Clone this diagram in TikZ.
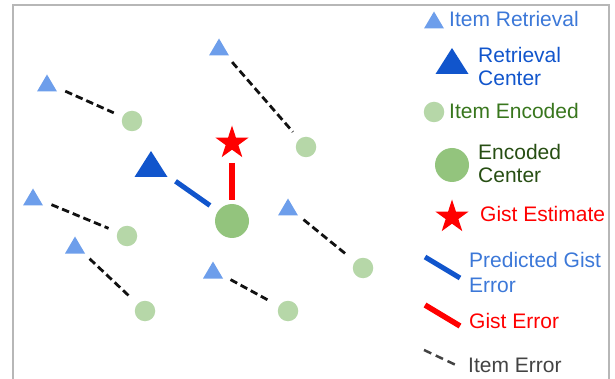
\documentclass[tikz,border=0pt]{standalone}
\usepackage{fontspec}
\setmainfont{Liberation Sans}
\usetikzlibrary{shapes.geometric}
\definecolor{triL}{HTML}{6D9EEB}
\definecolor{triD}{HTML}{1155CC}
\definecolor{circL}{HTML}{B6D7A8}
\definecolor{circM}{HTML}{93C47D}
\definecolor{txtBlue}{HTML}{3C78D8}
\definecolor{txtGreen}{HTML}{38761D}
\definecolor{txtDGreen}{HTML}{274E13}
\definecolor{gistRed}{HTML}{FF0000}
\definecolor{errGray}{HTML}{111111}
\definecolor{txtGray}{HTML}{434343}
\definecolor{frameGray}{HTML}{B7B7B7}
\begin{document}
\begin{tikzpicture}[x=1pt,y=-1pt,
  smalltri/.style={inner sep=0pt, outer sep=0pt, minimum width=20pt, minimum height=17pt,
    path picture={\fill[triL] (path picture bounding box.south west) -- (path picture bounding box.south east) -- (path picture bounding box.north) -- cycle;}},
  bigtri/.style={inner sep=0pt, outer sep=0pt, minimum width=33pt, minimum height=26pt,
    path picture={\fill[triD] (path picture bounding box.south west) -- (path picture bounding box.south east) -- (path picture bounding box.north) -- cycle;}},
  smallcirc/.style={circle, fill=circL, inner sep=0pt, outer sep=0pt, minimum size=20.5pt},
  bigcirc/.style={circle, fill=circM, inner sep=0pt, outer sep=0pt, minimum size=34pt},
  gstar/.style={star, star points=5, star point ratio=2.618, fill=gistRed, inner sep=0pt, outer sep=0pt, minimum size=35pt},
  itemerr/.style={draw=errGray, line width=2.8pt, dash pattern=on 7.5pt off 4pt, shorten <=20pt, shorten >=20pt},
  prederr/.style={draw=triD, line width=5pt},
  gisterr/.style={draw=gistRed, line width=5.5pt},
  lbl/.style={inner sep=0pt, anchor=base west, align=left, font=\fontsize{21}{23}\selectfont}
]
\useasboundingbox (0,0) rectangle (615,379);
\draw[frameGray, line width=1.5pt] (13,385) -- (13,5) -- (609,5) -- (609,385);

% item retrievals
\node[smalltri] (tA) at (47,83) {};
\node[smalltri] (tB) at (219,47) {};
\node[smalltri] (tC) at (33,197) {};
\node[smalltri] (tD) at (75,245) {};
\node[smalltri] (tE) at (288,207) {};
\node[smalltri] (tF) at (213,270) {};
% item encoded
\node[smallcirc] (cA) at (132,121) {};
\node[smallcirc] (cB) at (306,147) {};
\node[smallcirc] (cC) at (127,236) {};
\node[smallcirc] (cD) at (145,311) {};
\node[smallcirc] (cE) at (363,268) {};
\node[smallcirc] (cF) at (288,311) {};
% item errors
\draw[itemerr] (tA.center) -- (cA.center);
\draw[itemerr] (tB.center) -- (cB.center);
\draw[itemerr] (tC.center) -- (cC.center);
\draw[itemerr] (tD.center) -- (cD.center);
\draw[itemerr] (tE.center) -- (cE.center);
\draw[itemerr] (tF.center) -- (cF.center);

% centers
\node[bigtri] (rc) at (151,164) {};
\node[bigcirc] (ec) at (232,221) {};
\node[gstar] (ge) at (232,143) {};
\draw[prederr, shorten <=30pt, shorten >=27pt] (rc.center) -- (ec.center);
\draw[gisterr, shorten <=20pt, shorten >=21pt] (ge.center) -- (ec.center);

% legend
\node[smalltri] (lgA) at (434,20) {};
\node[lbl, text=txtBlue] (lgAt) at (449,27) {Item Retrieval};
\node[bigtri] (lgB) at (452,61) {};
\node[lbl, text=triD] (lgBt) at (478,86) {Retrieval\\Center};
\node[smallcirc] (lgC) at (434,112) {};
\node[lbl, text=txtGreen] (lgCt) at (449,119) {Item Encoded};
\node[bigcirc] (lgD) at (452,165) {};
\node[lbl, text=txtDGreen] (lgDt) at (478,183) {Encoded\\Center};
\node[gstar] (lgE) at (452,217) {};
\node[lbl, text=gistRed] (lgEt) at (480,222) {Gist Estimate};
\coordinate (lgF1) at (425,257);
\coordinate (lgF2) at (460,278);
\draw[prederr] (lgF1) -- (lgF2);
\node[lbl, text=txtBlue] (lgFt) at (469,292) {Predicted Gist\\[2pt]Error};
\coordinate (lgG1) at (425,305);
\coordinate (lgG2) at (460,326);
\draw[gisterr] (lgG1) -- (lgG2);
\node[lbl, text=gistRed] (lgGt) at (469,328) {Gist Error};
\coordinate (lgH1) at (424,350);
\coordinate (lgH2) at (458,366);
\draw[draw=txtGray, line width=2.5pt, dash pattern=on 8pt off 5pt] (lgH1) -- (lgH2);
\node[lbl, text=txtGray] (lgHt) at (468,372) {Item Error};
\end{tikzpicture}
\end{document}
